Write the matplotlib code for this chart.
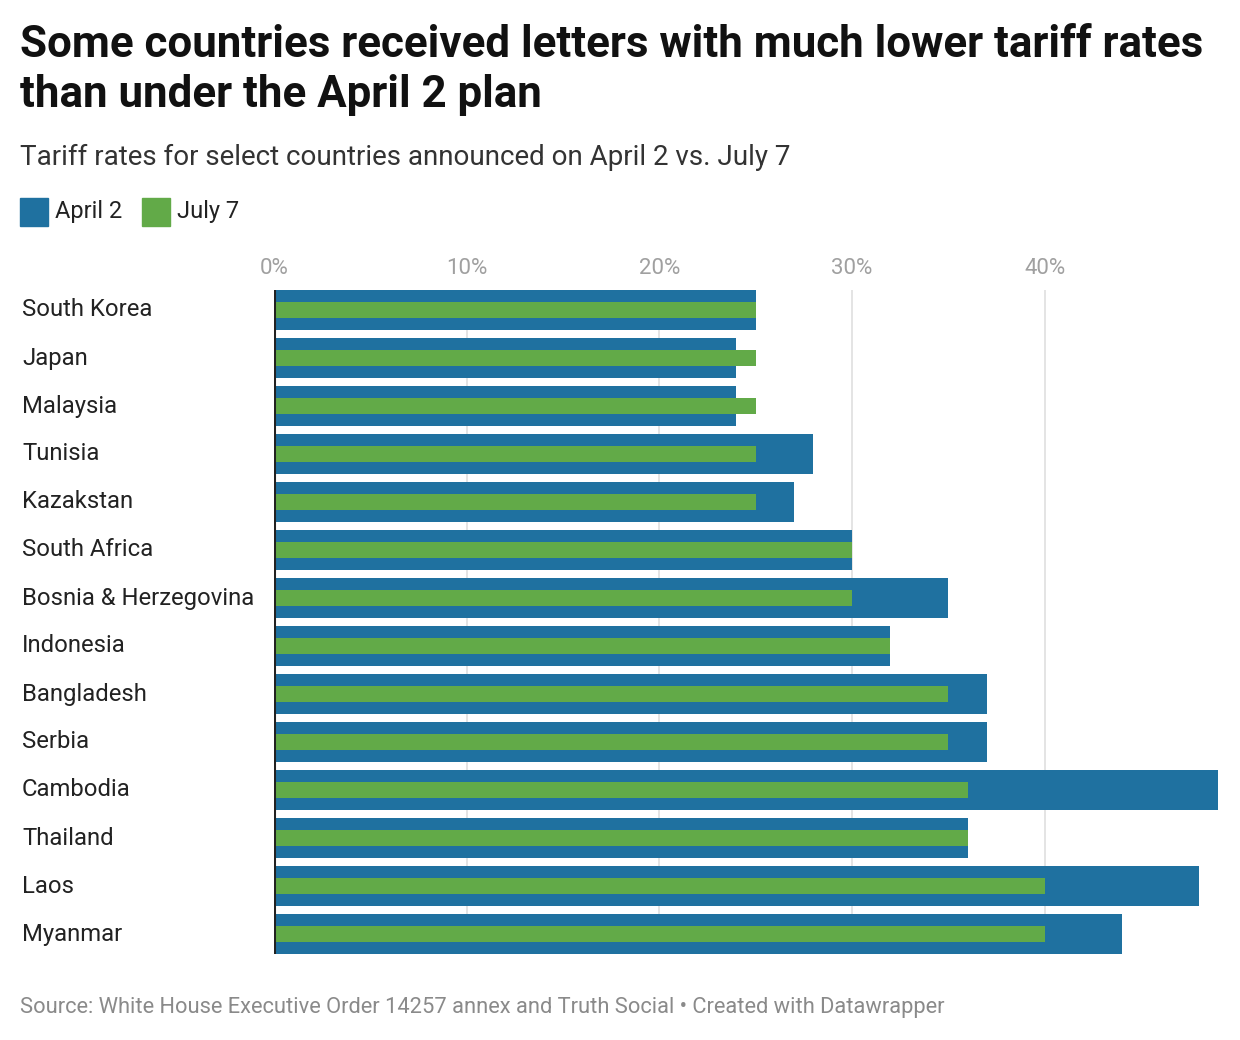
import matplotlib
matplotlib.use("Agg")
import matplotlib.pyplot as plt
from matplotlib.patches import Rectangle
import matplotlib.transforms as mtrans
import numpy as np

countries = ["South Korea", "Japan", "Malaysia", "Tunisia", "Kazakstan", "South Africa",
             "Bosnia & Herzegovina", "Indonesia", "Bangladesh", "Serbia", "Cambodia",
             "Thailand", "Laos", "Myanmar"]
april2 = [25, 24, 24, 28, 27, 30, 35, 32, 37, 37, 49, 36, 48, 44]
july7 = [25, 25, 25, 25, 25, 30, 30, 32, 35, 35, 36, 36, 40, 40]
xticks = [0, 10, 20, 30, 40]
xtick_labels = ["0%", "10%", "20%", "30%", "40%"]

BLUE = "#1f71a0"
GREEN = "#62aa48"

plt.rcParams['font.family'] = ['Roboto', 'DejaVu Sans']

W, H = 1240, 1040
fig = plt.figure(figsize=(W / 100, H / 100), dpi=100)

def fx(px):
    return px / W

def fy(py):
    return 1 - py / H

ax_left, ax_right, ax_top, ax_bot = 274, 1218, 290, 954
ax = fig.add_axes([fx(ax_left), fy(ax_bot), fx(ax_right - ax_left), (ax_bot - ax_top) / H])

n = len(countries)
y = np.arange(n)
ax.barh(y, april2, height=40 / 48, color=BLUE, zorder=2)
ax.barh(y, july7, height=16 / 48, color=GREEN, zorder=3)
ax.set_xlim(0, 49)
ax.set_ylim(n - 1 + 20 / 48, -20 / 48)

for s in ["top", "right", "bottom", "left"]:
    ax.spines[s].set_visible(False)
ax.axvline(0, color="#222222", lw=2.2, zorder=4)
for t in xticks[1:]:
    ax.axvline(t, color="#e2e2e2", lw=1.3, zorder=1)

ax.set_xticks(xticks)
ax.set_xticklabels(xtick_labels)
ax.xaxis.tick_top()
ax.tick_params(axis="x", length=0, pad=8, labelsize=16, labelcolor="#a0a0a0")
ax.set_yticks([])

trans = mtrans.blended_transform_factory(fig.transFigure, ax.transData)
for i, c in enumerate(countries):
    ax.text(fx(22), i, c, transform=trans, fontsize=17.2, color="#222222",
            va="center", ha="left", clip_on=False)

fig.text(fx(20), fy(45), "Some countries received letters with much lower tariff rates",
         fontsize=31.6, fontweight="bold", color="#111111", va="center", ha="left")
fig.text(fx(20), fy(95), "than under the April 2 plan",
         fontsize=31.6, fontweight="bold", color="#111111", va="center", ha="left")
fig.text(fx(20), fy(157), "Tariff rates for select countries announced on April 2 vs. July 7",
         fontsize=20, color="#333333", va="center", ha="left")

# legend
fig.patches.append(Rectangle((fx(20), fy(226)), fx(28), 28 / H, color=BLUE,
                             transform=fig.transFigure, figure=fig))
fig.text(fx(55), fy(212), "April 2", fontsize=17, color="#222222", va="center", ha="left")
fig.patches.append(Rectangle((fx(142), fy(226)), fx(28), 28 / H, color=GREEN,
                             transform=fig.transFigure, figure=fig))
fig.text(fx(177), fy(212), "July 7", fontsize=17, color="#222222", va="center", ha="left")

fig.text(fx(20), fy(1007),
         "Source: White House Executive Order 14257 annex and Truth Social \u2022 Created with Datawrapper",
         fontsize=15.75, color="#8a8a8a", va="center", ha="left")

fig.savefig("out.png", dpi=100, facecolor="white")
